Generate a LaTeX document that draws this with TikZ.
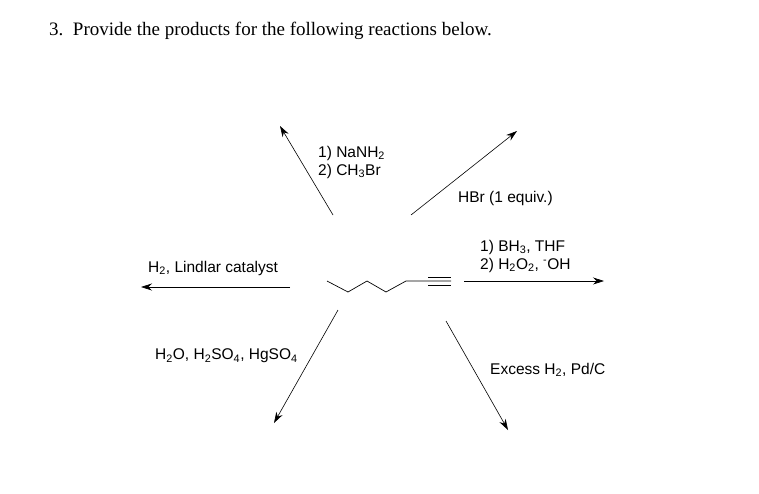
\documentclass[tikz,border=0pt]{standalone}
\usepackage{fontspec}
\setmainfont{Liberation Serif}
\setsansfont{Liberation Sans}
\usetikzlibrary{arrows.meta}
\newcommand{\sub}[1]{\textsubscript{#1}}
\tikzset{
  rxn/.style={-{Stealth[length=11pt,width=7pt]},line width=0.6pt},
  lbl/.style={anchor=west,inner sep=0pt,font=\sffamily\fontsize{15.5}{18}\selectfont,align=left},
  bond/.style={line width=0.7pt}
}
\begin{document}
\begin{tikzpicture}[x=1pt,y=-1pt]
\useasboundingbox (0,0) rectangle (759,493);
\node[anchor=west,inner sep=0pt,font=\fontsize{19}{22}\selectfont] (title) at (49,31) {3.\ \ Provide the products for the following reactions below.};

% alkyne
\draw[bond] (327,281) -- (348,292) -- (367,281) -- (386,292) -- (406,281) -- (451,281);
\draw[bond] (428,277) -- (451,277);
\draw[bond] (428,285) -- (451,285);

% arrows
\coordinate (a1) at (333,215); \coordinate (b1) at (280,126);
\coordinate (a2) at (411,215); \coordinate (b2) at (517,131);
\coordinate (a3) at (290,287); \coordinate (b3) at (141,287);
\coordinate (a4) at (464,281); \coordinate (b4) at (604,281);
\coordinate (a5) at (338,310); \coordinate (b5) at (274,423);
\coordinate (a6) at (446,321); \coordinate (b6) at (508,430);
\foreach \i in {1,...,6} {
	\draw[rxn] (a\i) -- (b\i);
	}

% reagents
\node[lbl] (nanh) at (318,162) {1) NaNH\sub{2}\\2) CH\sub{3}Br};
\node[lbl] (hbr) at (458,198) {HBr (1 equiv.)};
\node[lbl] (lind) at (148,268) {H\sub{2}, Lindlar catalyst};
\node[lbl] (bh) at (480,256) {1) BH\sub{3}, THF\\2) H\sub{2}O\sub{2}, \textsuperscript{-}OH};
\node[lbl] (hg) at (155,356) {H\sub{2}O, H\sub{2}SO\sub{4}, HgSO\sub{4}};
\node[lbl] (pd) at (490,370) {Excess H\sub{2}, Pd/C};
\end{tikzpicture}
\end{document}
